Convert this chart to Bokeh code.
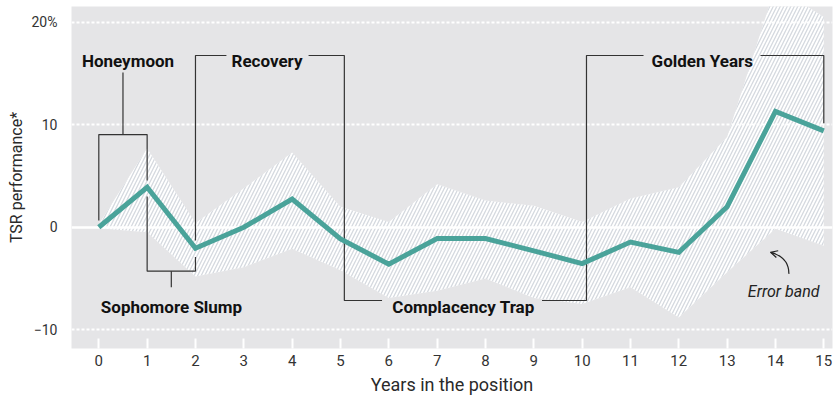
from bokeh.plotting import figure
from bokeh.models import Range1d, FixedTicker, Grid, Arrow, OpenHead
from bokeh.core.properties import value
from bokeh.embed import file_html
from bokeh.resources import INLINE

# ---------------- data ----------------
years = list(range(16))
tsr = [0.0, 3.9, -2.05, 0.0, 2.75, -1.15, -3.6, -1.1, -1.1, -2.3, -3.55, -1.45, -2.45, 2.0, 11.3, 9.4]
band_upper = [0.3, 7.7, 0.4, 3.8, 7.3, 2.0, 0.5, 4.2, 2.6, 2.1, 0.5, 2.8, 3.9, 8.8, 23.5, 20.5]
band_lower = [-0.1, -0.5, -4.8, -3.9, -2.1, -4.2, -6.9, -6.2, -5.0, -6.9, -7.5, -5.85, -8.8, -4.4, -0.15, -1.8]
y_ticks = [-10, 0, 10, 20]
y_tick_labels = ["\u221210", "0", "10", "20%"]

phase_labels = ["Honeymoon", "Recovery", "Golden Years", "Sophomore Slump", "Complacency Trap"]

FONT = "Roboto"
TEAL = "#4aa39a"
INK = "#2a2a2a"

p = figure(width=838, height=400,
           x_range=Range1d(-0.565, 15.18), y_range=Range1d(-11.83, 21.53),
           output_backend="svg", toolbar_location=None,
           min_border_left=71, min_border_right=6, min_border_top=6, min_border_bottom=52)
p.background_fill_color = "#e5e5e7"
p.border_fill_color = "white"
p.outline_line_color = None

# error band
band = p.varea(x=years, y1=band_lower, y2=band_upper, fill_color="white",
               hatch_pattern="/", hatch_color="#d5d9df", hatch_scale=7, hatch_weight=1.3)
band.level = "image"

# grids
p.xgrid.visible = False
p.ygrid.ticker = FixedTicker(ticks=[t for t in y_ticks if t != 0])
p.ygrid.grid_line_color = "white"
p.ygrid.grid_line_width = 2
p.ygrid.grid_line_dash = "3 2"
zero_grid = Grid(dimension=1, ticker=FixedTicker(ticks=[0]), grid_line_color="white", grid_line_width=2.5)
p.add_layout(zero_grid)

# axes
p.xaxis.ticker = FixedTicker(ticks=years)
p.xaxis.axis_line_color = None
p.xaxis.major_tick_in = 10
p.xaxis.major_tick_out = 0
p.xaxis.major_tick_line_color = "white"
p.xaxis.major_tick_line_width = 2
p.xaxis.minor_tick_line_color = None
p.xaxis.major_label_text_font = FONT
p.xaxis.major_label_text_font_size = "15px"
p.xaxis.major_label_text_color = "#333333"
p.xaxis.major_label_standoff = 6
p.xaxis.axis_label = "Years in the position"
p.xaxis.axis_label_text_font = FONT
p.xaxis.axis_label_text_font_size = "18px"
p.xaxis.axis_label_text_font_style = "normal"
p.xaxis.axis_label_text_color = INK
p.xaxis.axis_label_standoff = 5

p.yaxis.ticker = FixedTicker(ticks=y_ticks)
p.yaxis.major_label_overrides = {t: l for t, l in zip(y_ticks, y_tick_labels)}
p.yaxis.axis_line_color = None
p.yaxis.major_tick_line_color = None
p.yaxis.minor_tick_line_color = None
p.yaxis.major_label_text_font = FONT
p.yaxis.major_label_text_font_size = "14px"
p.yaxis.major_label_text_color = "#333333"
p.yaxis.major_label_standoff = 8
p.yaxis.axis_label = "TSR performance*"
p.yaxis.axis_label_text_font = FONT
p.yaxis.axis_label_text_font_size = "16px"
p.yaxis.axis_label_text_font_style = "normal"
p.yaxis.axis_label_text_color = INK
p.yaxis.axis_label_standoff = 3

# phase brackets (annotation geometry in data units)
bx = [
    [0, 0, 1, 1], [0.5, 0.5],
    [1, 1, 2, 2], [1.5, 1.5],
    [2, 2, 2.64],
    [4.34, 5.08, 5.08, 5.86],
    [9.17, 10.09, 10.09, 11.27],
    [13.69, 15, 15],
]
by = [
    [0.65, 9.04, 9.04, 4.56], [9.04, 15.1],
    [3.0, -4.29, -4.29, -2.9], [-4.29, -5.85],
    [-1.3, 16.75, 16.75],
    [16.75, 16.75, -7.15, -7.15],
    [-7.15, -7.15, 16.75, 16.75],
    [16.75, 16.75, 10.15],
]
p.multi_line(xs=bx, ys=by, line_color="#333333", line_width=1.2)

p.text(x=[0.604, 3.48, 12.485, 1.504, 7.546], y=[16.2, 16.2, 16.2, -7.8, -7.8],
       text=phase_labels, text_font=value(FONT), text_font_style="bold",
       text_font_size="17px", text_color="#111111", text_align="center",
       text_baseline="alphabetic")

# main line
p.line(years, tsr, line_color=TEAL, line_width=5, line_join="miter")

# error band note
p.text(x=[14.17], y=[-6.28], text=["Error band"], text_font=value(FONT),
       text_font_style="italic", text_font_size="16px", text_color="#222222",
       text_align="center", text_baseline="alphabetic")
p.bezier(x0=[14.277], y0=[-4.55], x1=[13.898], y1=[-2.44],
         cx0=[14.281], cy0=[-3.44], cx1=[14.146], cy1=[-2.76],
         line_color="#222222", line_width=1.2)
p.add_layout(Arrow(end=OpenHead(size=7, line_width=1.2, line_color="#222222"),
                   x_start=13.998, y_start=-2.57, x_end=13.898, y_end=-2.44,
                   line_width=1.2, line_color="#222222"))

open("out.html", "w").write(file_html(p, INLINE))
